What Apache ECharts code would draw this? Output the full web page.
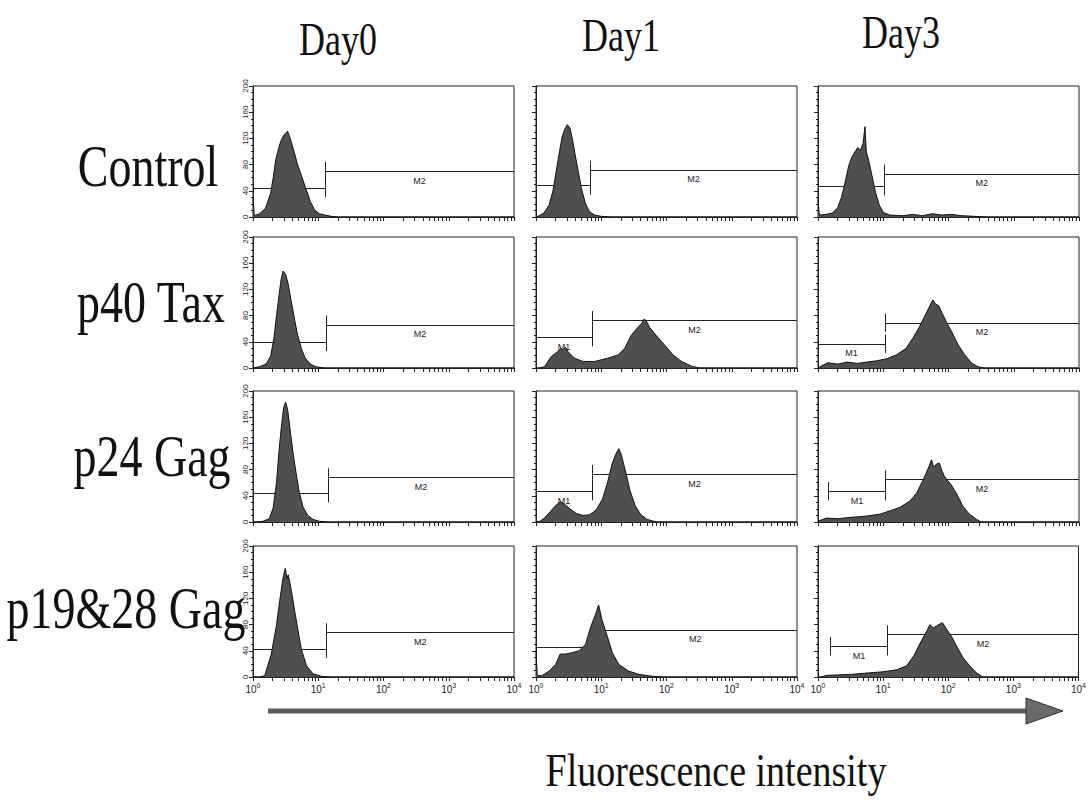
<!DOCTYPE html>
<html><head><meta charset="utf-8">
<script src="https://cdn.jsdelivr.net/npm/echarts@6.0.0/dist/echarts.min.js"></script>
<style>html,body{margin:0;padding:0;background:#fff}#c{width:1089px;height:800px}</style>
</head><body><div id="c"></div>
<script>
// ---------- DATA ----------
const conditions = ['Control', 'p40 Tax', 'p24 Gag', 'p19&28 Gag'];
const days = ['Day0', 'Day1', 'Day3'];
const xAxisTitle = 'Fluorescence intensity';
const yTickValues = [0, 40, 80, 120, 160, 200];
const xDecades = [0, 1, 2, 3, 4];                // labels 10^0 .. 10^4
const xMinorSteps = [2, 3, 4, 5, 6, 7, 8, 9];

// histograms: [position in decades (log10 of intensity), count]
const hControlDay0 = [[0,30],[0.02,2],[0.1,5],[0.19,13],[0.27,36],[0.31,60],[0.35,88],[0.38,100],[0.42,114],[0.45,121],[0.49,127],[0.53,131],[0.57,120],[0.6,110],[0.64,96],[0.68,81],[0.75,61],[0.8,46],[0.84,35],[0.88,23],[0.95,10],[1.02,5],[1.1,3],[1.2,1],[1.3,0],[4,0]];
const hControlDay1 = [[0,0],[0.05,2],[0.12,6],[0.2,18],[0.26,40],[0.31,70],[0.36,100],[0.4,122],[0.44,134],[0.48,141],[0.52,136],[0.56,118],[0.6,95],[0.65,68],[0.7,42],[0.76,20],[0.82,8],[0.9,3],[1.0,1],[1.15,0],[4,0]];
const hControlDay3 = [[0,28],[0.02,3],[0.12,4],[0.22,6],[0.3,14],[0.36,30],[0.42,55],[0.47,78],[0.52,92],[0.57,100],[0.61,106],[0.65,102],[0.69,112],[0.72,138],[0.74,100],[0.78,85],[0.83,62],[0.88,38],[0.94,18],[1.0,7],[1.1,3],[1.3,2],[1.45,4],[1.6,2],[1.75,5],[1.9,3],[2.05,4],[2.2,2],[2.4,1],[2.6,0],[4,0]];
const hTaxDay0 = [[0,0],[0.1,2],[0.2,6],[0.27,18],[0.32,45],[0.36,80],[0.4,112],[0.43,135],[0.46,148],[0.5,143],[0.54,128],[0.58,105],[0.63,78],[0.68,52],[0.74,30],[0.8,15],[0.88,6],[0.96,2],[1.1,0],[4,0]];
const hTaxDay1 = [[0,0],[0.05,0],[0.13,2],[0.23,17],[0.33,25],[0.38,30],[0.41,28],[0.45,32],[0.49,25],[0.59,15],[0.72,10],[0.9,10],[1.1,15],[1.26,20],[1.36,30],[1.46,50],[1.56,62],[1.62,68],[1.66,75],[1.7,70],[1.74,62],[1.84,50],[1.97,35],[2.1,20],[2.23,10],[2.38,3],[2.5,0],[4,0]];
const hTaxDay3 = [[0,0],[0.05,3],[0.15,8],[0.3,6],[0.45,9],[0.6,7],[0.75,9],[0.9,11],[1.05,14],[1.2,20],[1.35,30],[1.45,45],[1.55,62],[1.63,78],[1.7,92],[1.76,104],[1.8,98],[1.85,95],[1.9,84],[1.97,70],[2.05,55],[2.15,35],[2.25,20],[2.35,8],[2.45,2],[2.55,0],[4,0]];
const hP24Day0 = [[0,0],[0.15,1],[0.25,5],[0.31,22],[0.36,60],[0.4,110],[0.44,150],[0.47,175],[0.5,183],[0.53,172],[0.57,140],[0.61,108],[0.66,75],[0.71,45],[0.77,22],[0.84,10],[0.92,4],[1.02,1],[1.15,0],[4,0]];
const hP24Day1 = [[0,0],[0.06,1],[0.13,6],[0.22,16],[0.3,25],[0.37,31],[0.44,27],[0.52,20],[0.62,13],[0.72,10],[0.82,11],[0.92,18],[1.02,35],[1.1,62],[1.17,90],[1.23,105],[1.27,112],[1.31,102],[1.37,78],[1.44,48],[1.52,25],[1.6,12],[1.7,4],[1.85,0],[4,0]];
const hP24Day3 = [[0,0],[0.02,2],[0.13,6],[0.3,5],[0.49,7],[0.74,9],[0.95,12],[1.1,17],[1.25,22],[1.41,32],[1.51,44],[1.61,64],[1.69,82],[1.74,95],[1.77,84],[1.81,88],[1.86,90],[1.9,78],[1.94,69],[2.04,57],[2.12,44],[2.22,24],[2.32,12],[2.43,4],[2.5,0],[4,0]];
const hP1928Day0 = [[0,0],[0.1,0],[0.18,2],[0.28,35],[0.36,79],[0.41,117],[0.46,151],[0.495,166],[0.52,150],[0.54,156],[0.59,131],[0.64,100],[0.69,71],[0.74,43],[0.82,17],[0.92,5],[1.05,1],[1.2,0],[4,0]];
const hP1928Day1 = [[0,40],[0.02,2],[0.09,2],[0.2,9],[0.3,19],[0.37,35],[0.45,35],[0.55,37],[0.66,40],[0.76,50],[0.84,77],[0.91,95],[0.96,110],[1.01,88],[1.09,63],[1.17,37],[1.27,19],[1.42,9],[1.58,4],[1.79,1],[1.95,0],[4,0]];
const hP1928Day3 = [[0,0],[0.04,0],[0.14,2.5],[0.5,4],[0.75,6],[1.0,8],[1.21,11],[1.36,17],[1.47,32],[1.57,52],[1.67,70],[1.72,80],[1.77,75],[1.82,78],[1.91,83],[1.98,72],[2.05,62],[2.13,47],[2.23,29],[2.33,17],[2.43,6.5],[2.53,0],[4,0]];

// gates, row-major (condition x day). M1: [start decade, end decade, count level]; M2: [start decade, level] (ends at 10^4)
const gateM1 = [[0,1.107,44],[0,0.83,48],[0,1.02,47],
                [0,1.12,40],[0,0.86,47],[0,1.03,37],
                [0,1.15,44],[0,0.86,47],[0.164,1.03,47],
                [0,1.13,43],[0,0.88,46],[0.19,1.07,47]];
const gateM2 = [[1.107,70],[0.83,72],[1.02,66],
                [1.12,66],[0.86,73],[1.03,69],
                [1.15,68],[0.86,73],[1.03,65],
                [1.13,68],[0.88,72],[1.07,65]];
const m1Labelled = [false,false,false, false,true,true, false,true,true, false,false,true];
const gateNames = ['M1', 'M2'];

// ---------- LAYOUT ----------
const histGrid = [[hControlDay0,hControlDay1,hControlDay3],[hTaxDay0,hTaxDay1,hTaxDay3],[hP24Day0,hP24Day1,hP24Day3],[hP1928Day0,hP1928Day1,hP1928Day3]];
const rowTops = [86, 237, 391, 546];
const colLefts = [253, 536, 818];
const panelW = 261, panelH = 131;
const gateTick = 14;
const serif = '"Liberation Serif", "Times New Roman", serif';
const sans = '"Liberation Sans", Arial, sans-serif';

const tickVals = [];
xDecades.forEach(d => { tickVals.push(Math.pow(10, d)); if (d < 4) xMinorSteps.forEach(m => tickVals.push(m * Math.pow(10, d))); });

const grids = [], xAxes = [], yAxes = [], series = [];
for (let r = 0; r < 4; r++) {
  for (let c = 0; c < 3; c++) {
    const i = r * 3 + c;
    grids.push({left: colLefts[c], top: rowTops[r], width: panelW, height: panelH, show: true, borderColor: '#222', borderWidth: 1, backgroundColor: 'transparent'});
    xAxes.push({
      type: 'log', logBase: 10, min: 1, max: 10000, gridIndex: i,
      axisLine: {show: true, lineStyle: {color: '#222', width: 1}},
      axisTick: {show: true, customValues: tickVals, length: 4, lineStyle: {color: '#222'}},
      splitLine: {show: false},
      axisLabel: {
        show: r === 3, margin: 5,
        formatter: v => '{b|10}{s|' + Math.round(Math.log10(v)) + '}',
        rich: {b: {fontSize: 10, fontFamily: sans, color: '#222'}, s: {fontSize: 7, fontFamily: sans, color: '#222', padding: [0, 0, 7, 0]}}
      }
    });
    yAxes.push({
      type: 'value', min: yTickValues[0], max: yTickValues[yTickValues.length - 1], interval: 40, gridIndex: i,
      axisLine: {show: true, lineStyle: {color: '#222', width: 1}},
      axisTick: {show: true, length: 4, lineStyle: {color: '#222'}},
      minorTick: {show: true, splitNumber: 4, length: 2, lineStyle: {color: '#222'}},
      splitLine: {show: false},
      axisLabel: {show: c === 0, rotate: 90, fontSize: 8, fontFamily: sans, color: '#222', margin: 4}
    });
    const g1 = gateM1[i], g2 = gateM2[i];
    const p = d => Math.pow(10, d);
    const lbl = (show, name) => ({show: show, formatter: name, position: 'insideMiddleBottom', distance: 5, fontSize: 9, fontFamily: sans, color: '#222'});
    const mlData = [
      [{coord: [p(g1[0]), g1[2]], label: lbl(m1Labelled[i], gateNames[0])}, {coord: [p(g1[1]), g1[2]]}],
      [{coord: [p(g1[0]), g1[2] - gateTick], label: {show: false}}, {coord: [p(g1[0]), g1[2] + gateTick]}],
      [{coord: [p(g1[1]), g1[2] - gateTick], label: {show: false}}, {coord: [p(g1[1]), g1[2] + gateTick]}],
      [{coord: [p(g2[0]), g2[1]], label: lbl(true, gateNames[1])}, {coord: [p(4), g2[1]]}],
      [{coord: [p(g2[0]), g2[1] - gateTick], label: {show: false}}, {coord: [p(g2[0]), g2[1] + gateTick]}]
    ];
    series.push({
      type: 'line', xAxisIndex: i, yAxisIndex: i, z: 3,
      data: histGrid[r][c].map(pt => [Math.pow(10, pt[0]), pt[1]]),
      symbol: 'none', smooth: false,
      lineStyle: {color: '#111', width: 1},
      areaStyle: {color: '#4f4f4f', opacity: 1},
      silent: true,
      markLine: {z: 1, silent: true, symbol: 'none', animation: false, lineStyle: {color: '#222', width: 1, type: 'solid'}, emphasis: {disabled: true}, data: mlData}
    });
  }
}

const sy = 1.3;
const graphics = [];
const dayPos = [[338, 39], [621, 35], [901, 32]];
days.forEach((d, k) => graphics.push({type: 'text', x: dayPos[k][0], y: dayPos[k][1], scaleY: sy, style: {text: d, font: '36px ' + serif, fill: '#111', textAlign: 'center', align: 'center', textVerticalAlign: 'middle', verticalAlign: 'middle'}}));
const rowPos = [[148, 166], [151, 302], [152, 456], [126, 608]];
conditions.forEach((t, k) => graphics.push({type: 'text', x: rowPos[k][0], y: rowPos[k][1], scaleY: sy, style: {text: t, font: '46px ' + serif, fill: '#111', textAlign: 'center', align: 'center', textVerticalAlign: 'middle', verticalAlign: 'middle'}}));
graphics.push({type: 'text', x: 716, y: 770, scaleY: 1.22, style: {text: xAxisTitle, font: '38px ' + serif, fill: '#111', textAlign: 'center', align: 'center', textVerticalAlign: 'middle', verticalAlign: 'middle'}});
graphics.push({type: 'line', shape: {x1: 268, y1: 711, x2: 1030, y2: 711}, style: {stroke: '#5c5c5c', lineWidth: 5}});
graphics.push({type: 'polygon', shape: {points: [[1026, 698], [1063, 711], [1026, 724]]}, style: {fill: '#6a6a6a', stroke: '#333', lineWidth: 1}});

const chart = echarts.init(document.getElementById('c'), null, {renderer: 'svg'});
chart.setOption({animation: false, grid: grids, xAxis: xAxes, yAxis: yAxes, series: series, graphic: {elements: graphics}});
</script></body></html>
